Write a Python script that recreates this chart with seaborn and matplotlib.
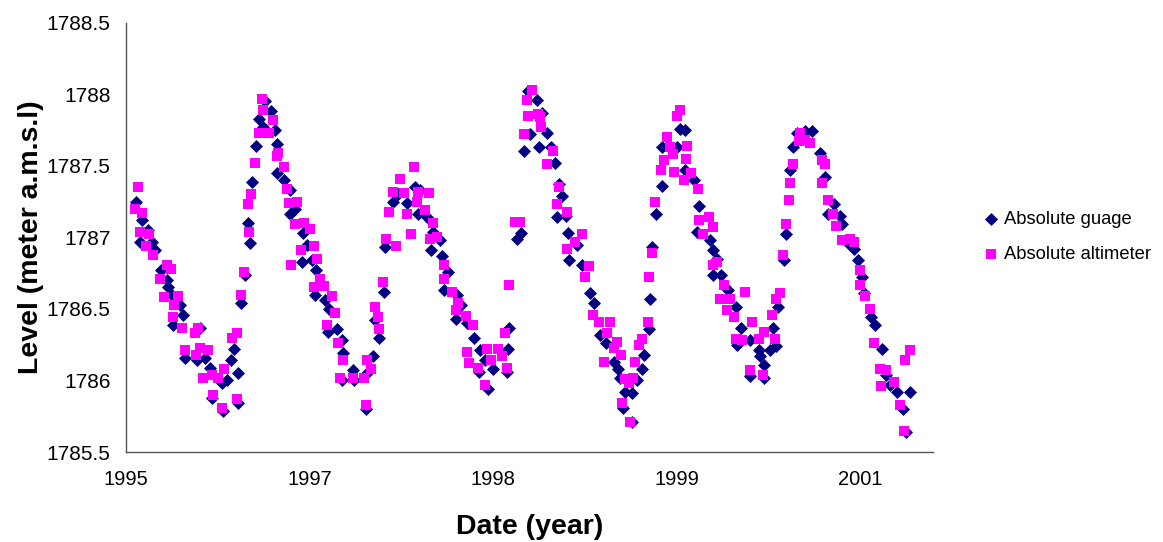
import numpy as np
import pandas as pd
import matplotlib
matplotlib.use("Agg")
import matplotlib.pyplot as plt
import seaborn as sns

# Lake level records: days counted from 1 Oct 1995, level in m a.m.s.l.
start_date = "1995-10-01"

gauge_days = [
    27, 38, 44, 59, 70, 79, 95, 111, 114, 125,
    128, 147, 155, 161, 193, 202, 215, 229, 234, 261,
    264, 274, 286, 294, 305, 306, 313, 324, 332, 338,
    343, 354, 363, 374, 379, 394, 406, 412, 410, 431,
    447, 448, 460, 479, 481, 492, 506, 518, 515, 542,
    554, 574, 549, 588, 592, 619, 589, 621, 654, 656,
    672, 678, 689, 703, 706, 728, 741, 765, 787, 801,
    796, 819, 837, 854, 830, 860, 878, 865, 901, 912,
    899, 928, 948, 965, 978, 999, 962, 987, 1039, 1041,
    1044, 1065, 1075, 1084, 1096, 1101, 1119, 1126, 1133, 1148,
    1157, 1169, 1178, 1187, 1175, 1199, 1205, 1228, 1206, 1242,
    1264, 1275, 1292, 1308, 1328, 1341, 1346, 1360, 1378, 1353,
    1379, 1392, 1405, 1411, 1425, 1426, 1432, 1444, 1460, 1461,
    1500, 1509, 1523, 1522, 1546, 1562, 1555, 1591, 1599, 1610,
    1598, 1620, 1641, 1662, 1675, 1663, 1700, 1723, 1728, 1737,
    1699, 1738, 1753, 1771, 1762, 1777, 1791, 1798, 1809, 1818,
    1828, 1850, 1868, 1891, 1905, 1927, 1913, 1944, 1950, 1967,
    1984, 1995, 2005, 2009, 2029, 2041, 2059, 2071, 2082, 2100,
    2136, 2116, 2125,
]
gauge_level = [
    1787.25, 1786.97, 1787.12, 1787.05, 1786.97, 1786.91, 1786.77, 1786.70, 1786.65, 1786.60,
    1786.39, 1786.53, 1786.46, 1786.16, 1786.14, 1786.37, 1786.16, 1786.09, 1785.88, 1785.98,
    1785.79, 1786.00, 1786.14, 1786.22, 1786.05, 1785.84, 1786.54, 1786.74, 1787.10, 1786.96,
    1787.39, 1787.64, 1787.83, 1787.77, 1787.95, 1787.88, 1787.75, 1787.65, 1787.45, 1787.40,
    1787.33, 1787.16, 1787.20, 1786.83, 1787.03, 1786.95, 1786.84, 1786.77, 1786.60, 1786.56,
    1786.50, 1786.36, 1786.34, 1786.28, 1786.19, 1786.07, 1786.00, 1786.00, 1785.80, 1786.05,
    1786.17, 1786.42, 1786.30, 1786.62, 1786.93, 1787.25, 1787.30, 1787.24, 1787.35, 1787.33,
    1787.16, 1787.14, 1787.04, 1786.98, 1786.91, 1786.87, 1786.76, 1786.63, 1786.60, 1786.53,
    1786.43, 1786.40, 1786.30, 1786.21, 1786.14, 1786.08, 1786.06, 1785.94, 1786.06, 1786.22,
    1786.37, 1786.99, 1787.03, 1787.60, 1788.02, 1787.72, 1787.96, 1787.63, 1787.87, 1787.73,
    1787.63, 1787.52, 1787.37, 1787.29, 1787.14, 1787.15, 1787.03, 1786.95, 1786.84, 1786.81,
    1786.61, 1786.54, 1786.32, 1786.26, 1786.13, 1786.08, 1786.02, 1785.92, 1785.91, 1785.81,
    1785.71, 1786.00, 1786.08, 1786.18, 1786.36, 1786.57, 1786.93, 1787.16, 1787.36, 1787.63,
    1787.63, 1787.76, 1787.75, 1787.47, 1787.40, 1787.22, 1787.04, 1786.98, 1786.91, 1786.85,
    1786.74, 1786.74, 1786.63, 1786.51, 1786.37, 1786.25, 1786.28, 1786.21, 1786.17, 1786.11,
    1786.03, 1786.02, 1786.21, 1786.24, 1786.37, 1786.51, 1786.84, 1787.02, 1787.47, 1787.63,
    1787.73, 1787.74, 1787.74, 1787.59, 1787.42, 1787.23, 1787.16, 1787.15, 1787.09, 1786.96,
    1786.92, 1786.84, 1786.72, 1786.61, 1786.44, 1786.39, 1786.22, 1786.04, 1785.97, 1785.92,
    1785.92, 1785.80, 1785.64,
]

altimeter_days = [
    25, 34, 38, 44, 54, 63, 74, 93, 104, 113,
    123, 127, 132, 141, 152, 161, 188, 190, 195, 202,
    211, 224, 235, 236, 250, 262, 268, 288, 302, 303,
    313, 322, 331, 336, 341, 352, 363, 370, 374, 390,
    400, 411, 415, 429, 438, 445, 449, 460, 467, 477,
    485, 501, 512, 513, 521, 529, 540, 547, 560, 569,
    578, 583, 590, 619, 647, 653, 656, 667, 677, 687,
    688, 701, 708, 717, 728, 736, 747, 756, 765, 776,
    785, 792, 796, 815, 826, 828, 837, 847, 865, 866,
    887, 899, 905, 926, 930, 935, 945, 960, 978, 984,
    994, 1014, 1024, 1033, 1037, 1044, 1060, 1074, 1083, 1092,
    1096, 1105, 1121, 1128, 1130, 1146, 1164, 1175, 1178, 1201,
    1202, 1223, 1242, 1251, 1260, 1273, 1287, 1301, 1310, 1319,
    1328, 1337, 1348, 1351, 1360, 1369, 1373, 1381, 1387, 1396,
    1405, 1423, 1424, 1432, 1441, 1457, 1464, 1473, 1482, 1491,
    1492, 1501, 1510, 1520, 1526, 1529, 1539, 1559, 1560, 1571,
    1589, 1599, 1600, 1610, 1617, 1630, 1638, 1646, 1657, 1662,
    1678, 1687, 1700, 1705, 1723, 1735, 1737, 1759, 1768, 1771,
    1780, 1789, 1798, 1807, 1808, 1817, 1832, 1837, 1850, 1862,
    1896, 1905, 1895, 1911, 1926, 1935, 1950, 1973, 1982, 1998,
    1999, 2014, 2027, 2036, 2054, 2056, 2071, 2091, 2109, 2120,
    2122, 2136,
]
altimeter_level = [
    1787.20, 1787.35, 1787.04, 1787.17, 1786.94, 1787.02, 1786.88, 1786.71, 1786.58, 1786.81,
    1786.78, 1786.44, 1786.53, 1786.59, 1786.37, 1786.21, 1786.33, 1786.18, 1786.37, 1786.23,
    1786.02, 1786.21, 1786.04, 1785.90, 1786.02, 1785.81, 1786.08, 1786.30, 1786.33, 1785.87,
    1786.60, 1786.76, 1787.23, 1787.04, 1787.30, 1787.52, 1787.73, 1787.97, 1787.89, 1787.73,
    1787.82, 1787.57, 1787.59, 1787.49, 1787.34, 1787.24, 1786.81, 1787.09, 1787.25, 1786.91,
    1787.10, 1787.06, 1786.94, 1786.65, 1786.85, 1786.71, 1786.66, 1786.39, 1786.59, 1786.47,
    1786.26, 1786.02, 1786.14, 1786.02, 1786.02, 1785.83, 1786.14, 1786.08, 1786.51, 1786.44,
    1786.36, 1786.69, 1786.99, 1787.18, 1787.32, 1786.94, 1787.41, 1787.31, 1787.16, 1787.02,
    1787.49, 1787.25, 1787.32, 1787.19, 1787.31, 1786.99, 1787.10, 1787.00, 1786.81, 1786.71,
    1786.62, 1786.49, 1786.54, 1786.45, 1786.20, 1786.12, 1786.39, 1786.09, 1785.97, 1786.22,
    1786.14, 1786.22, 1786.17, 1786.33, 1786.09, 1786.67, 1787.11, 1787.11, 1787.72, 1787.96,
    1787.85, 1788.03, 1787.86, 1787.84, 1787.77, 1787.51, 1787.60, 1787.23, 1787.35, 1787.18,
    1786.92, 1786.97, 1787.02, 1786.72, 1786.80, 1786.46, 1786.41, 1786.13, 1786.33, 1786.41,
    1786.23, 1786.27, 1786.18, 1785.84, 1786.01, 1785.98, 1785.71, 1786.02, 1786.13, 1786.25,
    1786.29, 1786.41, 1786.72, 1786.89, 1787.25, 1787.47, 1787.54, 1787.70, 1787.63, 1787.58,
    1787.46, 1787.85, 1787.89, 1787.40, 1787.55, 1787.64, 1787.45, 1787.34, 1787.12, 1787.02,
    1787.14, 1787.07, 1786.81, 1786.83, 1786.57, 1786.67, 1786.49, 1786.57, 1786.44, 1786.29,
    1786.28, 1786.62, 1786.07, 1786.41, 1786.29, 1786.04, 1786.34, 1786.46, 1786.29, 1786.57,
    1786.61, 1786.88, 1787.09, 1787.26, 1787.38, 1787.51, 1787.67, 1787.73, 1787.68, 1787.66,
    1787.54, 1787.51, 1787.38, 1787.26, 1787.16, 1787.08, 1786.98, 1786.99, 1786.97, 1786.77,
    1786.67, 1786.59, 1786.50, 1786.26, 1786.08, 1785.96, 1786.07, 1785.99, 1785.83, 1785.65,
    1786.14, 1786.21,
]

# Date axis: a tick every 500 days, labelled with the year only
tick_days = [0, 500, 1000, 1500, 2000]
tick_labels = ["1995", "1997", "1998", "1999", "2001"]
axis_end_day = 2198

series_names = ["Absolute guage", "Absolute altimeter"]

t0 = pd.Timestamp(start_date)
gauge = pd.DataFrame({
    "date": t0 + pd.to_timedelta(gauge_days, unit="D"),
    "level": gauge_level,
})
altimeter = pd.DataFrame({
    "date": t0 + pd.to_timedelta(altimeter_days, unit="D"),
    "level": altimeter_level,
})

sns.set_theme(style="white")
plt.rcParams["font.family"] = ["Liberation Sans", "DejaVu Sans"]
plt.rcParams["text.color"] = "black"
plt.rcParams["axes.labelcolor"] = "black"

fig = plt.figure(figsize=(11.63, 5.42), dpi=100)
ax = fig.add_axes([126 / 1163, 1 - 452 / 542, (933 - 126) / 1163, (452 - 22.7) / 542])

sns.scatterplot(data=gauge, x="date", y="level", ax=ax, marker="D",
                color="#000080", s=44, linewidth=0, label=series_names[0], zorder=3)
sns.scatterplot(data=altimeter, x="date", y="level", ax=ax, marker="s",
                color="#FF00FF", s=56, linewidth=0, label=series_names[1], zorder=4)

ax.set_xlim(t0, t0 + pd.Timedelta(days=axis_end_day))
ax.set_xticks([t0 + pd.Timedelta(days=d) for d in tick_days])
ax.set_xticklabels(tick_labels)

ax.set_ylim(1785.5, 1788.5)
yticks = np.arange(1785.5, 1788.51, 0.5)
ax.set_yticks(yticks)
ax.set_yticklabels([f"{v:g}" for v in yticks])

for side in ["top", "right"]:
    ax.spines[side].set_visible(False)
for side in ["left", "bottom"]:
    ax.spines[side].set_color("#555555")
    ax.spines[side].set_linewidth(1.0)

ax.tick_params(axis="both", which="major", direction="out", length=5,
               width=1, color="#555555", labelcolor="black")
ax.tick_params(axis="y", labelsize=15, pad=6)
ax.tick_params(axis="x", labelsize=14.5, pad=8)

ax.set_xlabel("Date (year)", fontsize=20.5, fontweight="bold", labelpad=18)
ax.set_ylabel("Level (meter a.m.s.l)", fontsize=20.5, fontweight="bold", labelpad=2)

ax.legend(loc="center left", bbox_to_anchor=(975 / 1163, 1 - 237 / 542),
          bbox_transform=fig.transFigure, frameon=False, fontsize=13.2,
          handlelength=0.7, handletextpad=0.4, labelspacing=0.95, borderpad=0)

fig.savefig("out.png", dpi=100)
